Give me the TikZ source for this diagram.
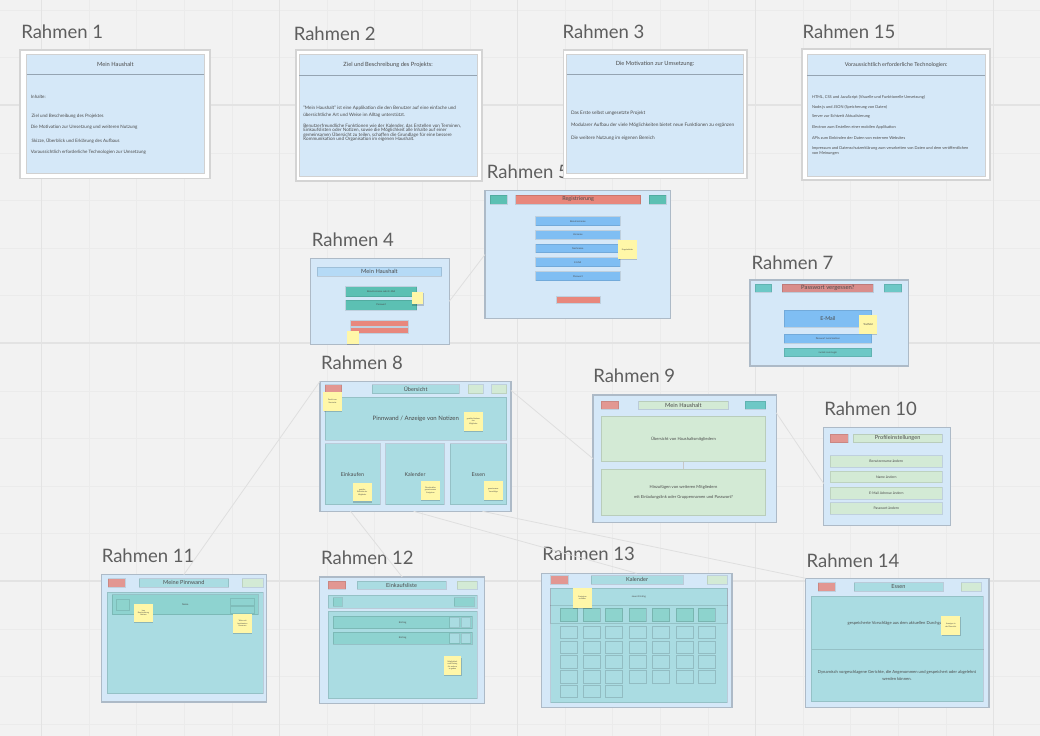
\documentclass[tikz,border=0pt]{standalone}
\usepackage{fontspec}
\setmainfont{Lato}
\usetikzlibrary{calc,shadows}
\definecolor{bg}{HTML}{F2F2F2}
\definecolor{gmin}{HTML}{EBEBEB}
\definecolor{gmaj}{HTML}{E3E3E3}
\definecolor{fr}{HTML}{D5E8F8}
\definecolor{frb}{HTML}{ADBAC7}
\definecolor{hdl}{HTML}{95A4B2}
\definecolor{mteal}{HTML}{5CC0B3}
\definecolor{mteal2}{HTML}{6DC8C6}
\definecolor{salm}{HTML}{E8877C}
\definecolor{salm2}{HTML}{D98D8B}
\definecolor{salml}{HTML}{E29792}
\definecolor{fblue}{HTML}{7FBEF3}
\definecolor{lteal}{HTML}{AADCE2}
\definecolor{dteal}{HTML}{8ED3D0}
\definecolor{hteal}{HTML}{8DD3CD}
\definecolor{lgreen}{HTML}{D3EAD5}
\definecolor{sticky}{HTML}{FFF7A8}
\definecolor{txt}{HTML}{4A4A4A}
\definecolor{lblc}{HTML}{5E5E5E}
\definecolor{connc}{HTML}{DFDFDF}
\definecolor{tbarc}{HTML}{B5DAF6}
\newcommand\fsz[2]{\fontsize{#1}{#2}\selectfont}
\newcommand\bx[7]{\node[#1,minimum width={(#5-#3)*0.75pt},minimum height={(#6-#4)*0.75pt}] (#2) at ({(#3+#5)/2},{(#4+#6)/2}) {#7};}
\tikzset{
  base/.style={inner sep=0pt, outer sep=0pt, align=center, text=txt, font=\fsz{3pt}{3.6pt}},
  frame/.style={base, fill=fr, draw=frb, line width=0.9pt},
  wframe/.style={base, fill=white, draw=black!17, line width=0.9pt},
  iframe/.style={base, fill=fr, draw=black!18, line width=0.6pt},
  ihead/.style={base, font=\fsz{4.3pt}{5pt}},
  hdline/.style={draw=hdl, line width=0.6pt},
  body/.style={base, anchor=west, align=left},
  tbar/.style={base, draw=black, draw opacity=0.12, line width=0.6pt, font=\fsz{4.3pt}{5pt}},
  btn/.style={base, draw=black, draw opacity=0.1, line width=0.5pt, font=\fsz{1.8pt}{2.2pt}},
  panel/.style={base, draw=black, draw opacity=0.12, line width=0.7pt, font=\fsz{3.1pt}{4pt}},
  cell/.style={base, fill=lteal, draw=black, draw opacity=0.14, line width=0.5pt},
  cellh/.style={base, fill=hteal, draw=black, draw opacity=0.14, line width=0.5pt},
  note/.style={base, fill=sticky, font=\fsz{1.4pt}{1.8pt}, drop shadow={shadow xshift=0.3pt, shadow yshift=-0.9pt, opacity=0.18, fill=black}},
  lbl/.style={inner sep=0pt, anchor=base west, text=lblc, font=\fsz{13.9pt}{16pt}},
  conn/.style={draw=connc, line width=0.6pt},
}
\begin{document}
\begin{tikzpicture}[x=0.75pt, y=-0.75pt]
\useasboundingbox (0,0) rectangle (1040,736);
% background grid
\fill[bg] (0,0) rectangle (1040,736);
\foreach \i in {0,...,22} {\draw[gmin, line width=0.5pt] ({-6.1+47.6*\i},0) -- ({-6.1+47.6*\i},736);}
\foreach \i in {0,...,16} {\draw[gmin, line width=0.5pt] (0,{10.2+47.6*\i}) -- (1040,{10.2+47.6*\i});}
\foreach \x in {41.5,279.5,517.5,755.5,993.5} {\draw[gmaj, line width=0.9pt] (\x,0) -- (\x,736);}
\foreach \y in {105,343,581} {\draw[gmaj, line width=0.9pt] (0,\y) -- (1040,\y);}

% ---------------- labels
\node[lbl] (l1) at (21,38) {Rahmen 1};
\node[lbl] (l2) at (293.5,40) {Rahmen 2};
\node[lbl] (l3) at (562.3,38) {Rahmen 3};
\node[lbl] (l15) at (802.4,38) {Rahmen 15};
\node[lbl] (l5) at (486.7,178) {Rahmen 5};
\node[lbl] (l4) at (311.7,246) {Rahmen 4};
\node[lbl] (l7) at (751.3,269) {Rahmen 7};
\node[lbl] (l8) at (320.8,369) {Rahmen 8};
\node[lbl] (l9) at (593,382) {Rahmen 9};
\node[lbl] (l10) at (824,415) {Rahmen 10};
\node[lbl] (l11) at (101.5,562) {Rahmen 11};
\node[lbl] (l12) at (320.8,564) {Rahmen 12};
\node[lbl] (l13) at (542,560) {Rahmen 13};
\node[lbl] (l14) at (806.4,567) {Rahmen 14};

% ---------------- Rahmen 1
\bx{wframe}{r1}{20}{50}{210}{178.5}{}
\bx{iframe}{r1i}{26.7}{54}{204}{173.5}{}
\bx{ihead}{r1h}{26.7}{54}{204}{74.5}{Mein Haushalt}
\draw[hdline] (r1h.south west) -- (r1h.south east);
\begin{scope}[every node/.style={body, font=\fsz{3.4pt}{4pt}}]
\node (r1a) at (31,97.3) {Inhalte:};
\node (r1b) at (31.7,116) {Ziel und Beschreibung des Projektes};
\node (r1c) at (31,127.7) {Die Motivation zur Umsetzung und weiteren Nutzung};
\node (r1d) at (31.7,141) {Skizze, Überblick und Erklärung des Aufbaus};
\node (r1e) at (31,152.7) {Voraussichtlich erforderliche Technologien zur Umsetzung};
\end{scope}

% ---------------- Rahmen 2
\bx{wframe}{r2}{296}{50}{482}{181}{}
\bx{iframe}{r2i}{299.3}{54}{477}{176}{}
\bx{ihead}{r2h}{299.3}{54}{477}{75}{Ziel und Beschreibung des Projekts:}
\draw[hdline] (r2h.south west) -- (r2h.south east);
\begin{scope}[every node/.style={body, font=\fsz{3.45pt}{4pt}}]
\node (r2a) at (303.3,107.7) {"Mein Haushalt" ist eine Applikation die den Benutzer auf eine einfache und};
\node (r2b) at (303.3,115.3) {übersichtliche Art und Weise im Alltag unterstützt.};
\node (r2c) at (303.3,126) {Benutzerfreundliche Funktionen wie der Kalender, das Erstellen von Terminen,};
\node (r2d) at (303.3,130.4) {Einkaufslisten oder Notizen, sowie die Möglichkeit alle Inhalte auf einer};
\node (r2e) at (303.3,134.9) {gemeinsamen Übersicht zu teilen, schaffen die Grundlage für eine bessere};
\node (r2f) at (303.3,139.3) {Kommunikation und Organisation im eigenen Haushalt.};
\end{scope}

% ---------------- Rahmen 3
\bx{wframe}{r3}{563.3}{50}{747}{178.5}{}
\bx{iframe}{r3i}{566.7}{54}{743.3}{173.5}{}
\bx{ihead}{r3h}{566.7}{54}{743.3}{74.5}{Die Motivation zur Umsetzung:}
\draw[hdline] (r3h.south west) -- (r3h.south east);
\begin{scope}[every node/.style={body, font=\fsz{3.55pt}{4pt}}]
\node (r3a) at (571,113.3) {Das Erste selbst umgesetzte Projekt};
\node (r3b) at (571,125) {Modularer Aufbau der viele Möglichkeiten bietet neue Funktionen zu ergänzen};
\node (r3c) at (571,138.3) {Die weitere Nutzung im eigenen Bereich};
\end{scope}

% ---------------- Rahmen 15
\bx{wframe}{r15}{802}{49}{990}{180}{}
\bx{iframe}{r15i}{807.3}{54}{985}{176}{}
\bx{ihead,font=\fsz{4.1pt}{5pt}}{r15h}{807.3}{54}{985}{75}{Voraussichtlich erforderliche Technologien:}
\draw[hdline] (r15h.south west) -- (r15h.south east);
\begin{scope}[every node/.style={body, font=\fsz{2.95pt}{3.5pt}}]
\node (r15a) at (812,97.3) {HTML, CSS und JavaScript (Visuelle und Funktionelle Umsetzung)};
\node (r15b) at (812,107.3) {Node.js und JSON (Speicherung von Daten)};
\node (r15c) at (812,116.7) {Server zur Echtzeit Aktualisierung};
\node (r15d) at (812,127.7) {Electron zum Erstellen einer mobilen Applikation};
\node (r15e) at (812,138.3) {APIs zum Einbinden der Daten von externen Websites};
\node (r15f) at (812,148.3) {Impressum und Datenschutzerklärung zum verarbeiten von Daten und dem veröffentlichen};
\node (r15g) at (812,153.4) {von Meinungen};
\end{scope}

% ---------------- Rahmen 4
\bx{frame}{r4}{310.7}{258.3}{449.3}{344.3}{}
\bx{tbar,fill=tbarc}{r4t}{317.3}{267.3}{441.7}{276}{Mein Haushalt}
\bx{btn,fill=mteal}{r4a}{345.7}{286.7}{416.7}{296.7}{Benutzername oder E-Mail}
\bx{btn,fill=mteal}{r4b}{345.7}{300}{416.7}{310}{Passwort}
\bx{note}{r4s1}{411.7}{291.7}{423.3}{304.3}{}
\bx{btn,fill=salm}{r4c}{350.7}{320.7}{408.3}{326}{}
\bx{btn,fill=salm}{r4d}{350.7}{327.7}{408.3}{333.3}{}
\bx{note}{r4s2}{346.7}{330.7}{359}{343.5}{}

% ---------------- Rahmen 5
\bx{frame}{r5}{485}{190.7}{670.7}{318.3}{}
\bx{btn,fill=mteal}{r5a}{490}{195}{507.3}{204}{}
\bx{tbar,fill=salm,font=\fsz{4.1pt}{5pt}}{r5t}{515.7}{195}{640.7}{204}{Registrierung}
\bx{btn,fill=mteal}{r5b}{649}{195}{666}{204}{}
\bx{btn,fill=fblue}{r5c}{535.7}{216.7}{620}{225.7}{Benutzername}
\bx{btn,fill=fblue}{r5d}{535.7}{230.7}{620}{239.3}{Vorname}
\bx{btn,fill=fblue}{r5e}{535.7}{244.3}{620}{252.7}{Nachname}
\bx{btn,fill=fblue}{r5f}{535.7}{257.7}{620}{266.7}{E-Mail}
\bx{btn,fill=fblue}{r5g}{535.7}{271.7}{620}{280.7}{Passwort}
\bx{note}{r5s}{618.3}{240}{636.7}{259}{Eingabefelder}
\bx{btn,fill=salm}{r5h}{556.7}{296.7}{600}{303.3}{}

% ---------------- Rahmen 7
\bx{frame}{r7}{750}{280}{908.3}{366}{}
\bx{btn,fill=mteal2}{r7a}{755}{284}{771.7}{292.3}{}
\bx{tbar,fill=salm2,font=\fsz{4.4pt}{5pt}}{r7t}{782.3}{284}{873.3}{292.3}{Passwort vergessen?}
\bx{btn,fill=mteal2}{r7b}{884.3}{284}{901.7}{292.3}{}
\bx{btn,fill=fblue,font=\fsz{4pt}{5pt}}{r7c}{784}{310}{871.7}{327.3}{E-Mail}
\bx{note,font=\fsz{2pt}{2.4pt}}{r7s}{859.3}{315}{876.7}{334}{Textfeld}
\bx{btn,fill=fblue}{r7d}{784}{334.3}{871.7}{343.3}{Passwort zurücksetzen}
\bx{btn,fill=mteal2}{r7e}{784}{348.3}{871.7}{356.7}{zurück zum Login}

% ---------------- Rahmen 8
\bx{frame}{r8}{320}{381.3}{511}{511.3}{}
\bx{btn,fill=salml}{r8a}{325}{384.7}{341.7}{393}{}
\bx{tbar,fill=lteal,font=\fsz{4.2pt}{5pt}}{r8t}{372.3}{384.7}{459}{393.7}{Übersicht}
\bx{btn,fill=lgreen}{r8b}{468.3}{384.7}{483.3}{393.7}{}
\bx{btn,fill=lgreen}{r8c}{491.7}{384.7}{506.7}{393.7}{}
\bx{panel,fill=lteal,font=\fsz{4.5pt}{5pt}}{r8p}{325}{397}{506.7}{440.3}{Pinnwand / Anzeige von Notizen}
\bx{panel,fill=lteal,font=\fsz{4pt}{5pt}}{r8e}{325}{443.7}{380}{504.7}{Einkaufen}
\bx{panel,fill=lteal,font=\fsz{4pt}{5pt}}{r8k}{385.7}{443.7}{444.3}{504.7}{Kalender}
\bx{panel,fill=lteal,font=\fsz{4pt}{5pt}}{r8f}{450}{443.7}{506.7}{504.7}{Essen}
\bx{note}{r8s1}{323.3}{392}{341.7}{410.7}{Zurück zur\\Startseite}
\bx{note}{r8s2}{464}{412}{482.7}{430.7}{geteilte Notizen\\der\\Mitglieder}
\bx{note}{r8s3}{352.7}{483}{371.7}{501.3}{geteilte\\Einkäufe der\\Mitglieder}
\bx{note}{r8s4}{421}{480.7}{440}{499.7}{Die aktuellen\\gemeinsamen\\Ereignisse}
\bx{note}{r8s5}{484}{481.3}{502.7}{499.7}{gemeinsame\\Vorschläge}

% ---------------- Rahmen 9
\bx{frame}{r9}{593}{395}{776.3}{522.3}{}
\bx{btn,fill=salml}{r9a}{601.3}{401}{618.7}{409.3}{}
\bx{tbar,fill=lgreen,font=\fsz{4.3pt}{5pt}}{r9t}{638.7}{401}{728}{409.3}{Mein Haushalt}
\bx{btn,fill=mteal2}{r9b}{745.3}{401}{765.7}{409.3}{}
\bx{panel,fill=lgreen}{r9p}{601.3}{416}{765.7}{461.7}{Übersicht von Haushaltsmitgliedern}
\bx{panel,fill=lgreen}{r9q}{601.3}{469.3}{765.7}{515.7}{}
\node[base, font=\fsz{3.1pt}{4pt}] (r9q1) at (683.5,487.7) {Hinzufügen von weiteren Mitgliedern};
\node[base, font=\fsz{3.1pt}{4pt}] (r9q2) at (683.5,497.7) {mit Einladungslink oder Gruppennamen und Passwort?};
\draw[draw=black!22, line width=0.35pt] (r9p.south) -- (r9q.north);

% ---------------- Rahmen 10
\bx{frame}{r10}{823.7}{427.7}{950.3}{525.7}{}
\bx{btn,fill=salml}{r10a}{830.3}{434}{848}{442.7}{}
\bx{tbar,fill=lgreen,font=\fsz{4.2pt}{5pt}}{r10t}{853}{434}{942.3}{442.7}{Profileinstellungen}
\bx{btn,fill=lgreen,font=\fsz{2.6pt}{3pt}}{r10b}{830.3}{455.7}{942.3}{467.3}{Benutzername ändern}
\bx{btn,fill=lgreen,font=\fsz{2.6pt}{3pt}}{r10c}{830.3}{471}{942.3}{482.7}{Name ändern}
\bx{btn,fill=lgreen,font=\fsz{2.6pt}{3pt}}{r10d}{830.3}{487.3}{942.3}{499}{E-Mail Adresse ändern}
\bx{btn,fill=lgreen,font=\fsz{2.6pt}{3pt}}{r10e}{830.3}{502.7}{942.3}{514.3}{Passwort ändern}

% ---------------- Rahmen 11
\bx{frame}{r11}{101.3}{574.7}{266.3}{702}{}
\bx{btn,fill=salml}{r11a}{108}{578.7}{125.3}{587}{}
\bx{tbar,fill=lteal,font=\fsz{4.2pt}{5pt}}{r11t}{139}{578.7}{228.7}{587}{Meine Pinnwand}
\bx{btn,fill=lgreen}{r11b}{242.3}{578.7}{263}{587}{}
\bx{panel,fill=lteal}{r11p}{107.3}{592}{263}{693.7}{}
\bx{panel,fill=dteal,font=\fsz{1.8pt}{2.2pt}}{r11q}{112.3}{594.7}{258}{614.7}{Name}
\bx{btn,fill=hteal}{r11c}{116.3}{599.7}{129.7}{610.3}{}
\bx{btn,fill=dteal}{r11d}{230.3}{598}{254.7}{605.3}{}
\bx{btn,fill=dteal}{r11e}{230.3}{606.3}{254.7}{613}{}
\bx{note}{r11s1}{134}{603.7}{153}{622}{Icon\\Beschreibung\\Notizen}
\bx{note}{r11s2}{233}{613.7}{252}{633}{Teilen mit\\bestimmten\\Personen}

% ---------------- Rahmen 12
\bx{frame}{r12}{319.7}{577}{484.7}{703.7}{}
\bx{btn,fill=salml}{r12a}{328}{581.3}{345.7}{589.3}{}
\bx{tbar,fill=lteal,font=\fsz{4.2pt}{5pt}}{r12t}{357}{581.3}{446.3}{589.3}{Einkaufsliste}
\bx{btn,fill=lgreen}{r12b}{457}{581.3}{477.3}{589.3}{}
\bx{panel,fill=lteal}{r12c}{328}{595.3}{477.3}{608}{}
\bx{btn,fill=dteal}{r12d}{333}{597.7}{342.3}{606.3}{}
\bx{btn,fill=dteal}{r12e}{454}{597.7}{474}{606.3}{}
\bx{panel,fill=lteal}{r12p}{328}{611.3}{477.3}{698.7}{}
\bx{panel,fill=dteal,font=\fsz{1.8pt}{2.2pt}}{r12f}{333}{616.3}{472.3}{628.7}{Eintrag}
\bx{btn,fill=lteal}{r12f1}{449.7}{617.3}{459.7}{627.7}{}
\bx{btn,fill=lteal}{r12f2}{461.3}{617.3}{470.7}{627.7}{}
\bx{panel,fill=dteal,font=\fsz{1.8pt}{2.2pt}}{r12g}{333}{632}{472.3}{644.3}{Eintrag}
\bx{btn,fill=lteal}{r12g1}{449.7}{633}{459.7}{643.3}{}
\bx{btn,fill=lteal}{r12g2}{461.3}{633}{470.7}{643.3}{}
\bx{note}{r12s}{443.7}{656.3}{461.3}{674.7}{Möglichkeit\\zum Eintrag\\für weitere\\zu geben}

% ---------------- Rahmen 13
\bx{frame}{r13}{541.3}{573.3}{732}{707.7}{}
\bx{btn,fill=salml}{r13a}{550.7}{575.7}{568}{584}{}
\bx{tbar,fill=lteal,font=\fsz{4.2pt}{5pt}}{r13t}{591.3}{575.7}{683}{584}{Kalender}
\bx{btn,fill=lgreen}{r13b}{707}{575.7}{727}{584}{}
\bx{panel,fill=lteal}{r13p}{550.7}{588.3}{727}{702.7}{}
\bx{panel,fill=lteal,font=\fsz{1.8pt}{2.2pt}}{r13hd}{550.7}{588.3}{727}{605}{neuer Eintrag}
\bx{panel,fill=lteal}{r13dr}{550.7}{605}{727}{623.3}{}
\foreach \cx [count=\i] in {560.3,583,605.3,629,652.3,676.3,698} {
  \bx{cellh}{r13h\i}{\cx}{608.3}{\cx+17.3}{621.7}{}
  \foreach \ry [count=\j] in {626,641,655.7,670.7} {
    \bx{cell}{r13c\i\j}{\cx}{\ry}{\cx+17.3}{\ry+12.5}{}
  }
}
\foreach \cx [count=\i] in {560.3,583,605.3} {
  \bx{cell}{r13c\i5}{\cx}{685}{\cx+17.3}{697.5}{}
}
\bx{note}{r13s}{573}{588.3}{592}{607.7}{Ereignisse\\erstellen}

% ---------------- Rahmen 14
\bx{frame}{r14}{805.7}{578.3}{989}{707.7}{}
\bx{btn,fill=salml}{r14a}{818}{582.7}{835.3}{591}{}
\bx{tbar,fill=lteal,font=\fsz{4.2pt}{5pt}}{r14t}{854}{582.7}{943}{591}{Essen}
\bx{btn,fill=lgreen}{r14b}{961.3}{582.7}{981.3}{591}{}
\bx{panel,fill=lteal}{r14p}{811.3}{596}{983}{649}{}
\node[base, font=\fsz{3.1pt}{4pt}] (r14p1) at (897,623.3) {gespeicherte Vorschläge aus dem aktuellen Durchgang};
\bx{panel,fill=lteal}{r14q}{811.3}{649}{983}{701.7}{}
\node[base, font=\fsz{3.1pt}{4pt}] (r14q1) at (897,672.7) {Dynamisch vorgeschlagene Gerichte, die Angenommen und gespeichert oder abgelehnt};
\node[base, font=\fsz{3.1pt}{4pt}] (r14q2) at (897,678.6) {werden können.};
\bx{note}{r14s}{941.3}{616}{960.3}{635}{Anzeigen in\\der Übersicht}

% ---------------- connectors
\draw[conn] (r4.east) -- (r5.west);
\draw[conn] (r8.north west) -- (r11.north);
\draw[conn] ($(r8.north east)!0.07!(r8.south east)$) -- (r9.west);
\draw[conn] ($(r8.south west)!0.16!(r8.south east)$) -- (r12.north);
\draw[conn] ($(r8.south west)!0.49!(r8.south east)$) -- (r13.north);
\draw[conn] ($(r8.south west)!0.85!(r8.south east)$) -- (r14.north west);
\draw[conn] ($(r9.north east)!0.14!(r9.south east)$) -- ($(r10.north west)!0.57!(r10.south west)$);
\end{tikzpicture}
\end{document}
